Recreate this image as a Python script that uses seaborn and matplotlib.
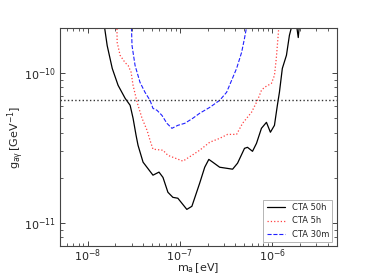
import numpy as np
import pandas as pd
import matplotlib
matplotlib.use("Agg")
import matplotlib.pyplot as plt
import seaborn as sns

# CTA 50h sensitivity
ma_50h = [1.51e-8, 1.53e-8, 1.63e-8, 1.85e-8, 2.14e-8, 2.55e-8, 2.89e-8, 3.11e-8,
          3.35e-8, 3.52e-8, 3.99e-8, 5.11e-8, 5.94e-8, 6.56e-8, 7.42e-8, 8.40e-8,
          9.51e-8, 1.19e-7, 1.35e-7, 1.64e-7, 1.86e-7, 2.06e-7, 2.27e-7, 2.70e-7,
          3.73e-7, 4.22e-7, 5.02e-7, 5.41e-7, 6.13e-7, 6.77e-7, 7.66e-7, 8.68e-7,
          9.58e-7, 1.06e-6, 1.14e-6, 1.20e-6, 1.29e-6, 1.43e-6, 1.54e-6, 1.62e-6,
          1.70e-6, 1.78e-6, 1.92e-6, 2.02e-6]
g_50h = [2.41e-10, 1.99e-10, 1.52e-10, 1.07e-10, 8.26e-11, 6.77e-11, 6.08e-11, 4.98e-11,
         3.84e-11, 3.29e-11, 2.54e-11, 2.08e-11, 2.18e-11, 2.01e-11, 1.60e-11, 1.48e-11,
         1.46e-11, 1.23e-11, 1.29e-11, 1.84e-11, 2.35e-11, 2.65e-11, 2.54e-11, 2.35e-11,
         2.28e-11, 2.50e-11, 3.14e-11, 3.19e-11, 3.00e-11, 3.39e-11, 4.27e-11, 4.68e-11,
         4.02e-11, 4.47e-11, 6.08e-11, 7.42e-11, 1.07e-10, 1.31e-10, 1.78e-10, 2.01e-10,
         2.41e-10, 2.41e-10, 1.72e-10, 2.41e-10]

# CTA 5h sensitivity
ma_5h = [2.07e-8, 2.09e-8, 2.25e-8, 2.55e-8, 2.75e-8, 2.96e-8, 3.11e-8, 3.44e-8,
         3.89e-8, 4.41e-8, 4.75e-8, 5.11e-8, 6.56e-8, 7.42e-8, 1.08e-7, 1.35e-7,
         1.64e-7, 2.11e-7, 2.70e-7, 3.29e-7, 4.12e-7, 4.78e-7, 5.98e-7, 6.94e-7,
         7.66e-7, 8.26e-7, 9.83e-7, 1.06e-6, 1.11e-6, 1.17e-6, 1.20e-6]
g_5h = [2.41e-10, 1.60e-10, 1.31e-10, 1.17e-10, 1.12e-10, 1.01e-10, 8.26e-11, 6.36e-11,
        4.98e-11, 4.14e-11, 3.55e-11, 3.10e-11, 3.05e-11, 2.82e-11, 2.58e-11, 2.82e-11,
        3.05e-11, 3.45e-11, 3.66e-11, 3.89e-11, 3.89e-11, 4.61e-11, 5.46e-11, 6.56e-11,
        7.65e-11, 8.01e-11, 8.51e-11, 9.62e-11, 1.25e-10, 1.86e-10, 2.41e-10]

# CTA 30m sensitivity
ma_30m = [2.96e-8, 3.03e-8, 3.27e-8, 3.70e-8, 4.19e-8, 4.75e-8, 5.11e-8, 5.65e-8,
          6.39e-8, 7.24e-8, 8.20e-8, 9.51e-8, 1.13e-7, 1.38e-7, 1.64e-7, 2.11e-7,
          2.70e-7, 3.21e-7, 3.64e-7, 4.12e-7, 4.67e-7, 5.02e-7, 5.28e-7, 5.41e-7]
g_30m = [2.41e-10, 1.52e-10, 1.12e-10, 8.64e-11, 7.42e-11, 6.56e-11, 5.80e-11, 5.63e-11,
         5.21e-11, 4.61e-11, 4.27e-11, 4.47e-11, 4.61e-11, 4.98e-11, 5.38e-11, 5.89e-11,
         6.56e-11, 7.42e-11, 8.92e-11, 1.07e-10, 1.37e-10, 1.70e-10, 2.01e-10, 2.41e-10]

g_ref = 6.6e-11
labels = ["CTA 50h", "CTA 5h", "CTA 30m"]

sns.set_style("ticks")
plt.rcParams['font.family'] = ['DejaVu Sans']
plt.rcParams['mathtext.fontset'] = 'dejavusans'

fig = plt.figure(figsize=(3.74, 2.8), dpi=100)
ax = fig.add_axes([0.160, 0.121, 0.740, 0.780])
ax.set_xscale('log')
ax.set_yscale('log')

sns.lineplot(x=ma_50h, y=g_50h, ax=ax, color='k', lw=0.9, sort=False,
             estimator=None, label=labels[0])
sns.lineplot(x=ma_5h, y=g_5h, ax=ax, color='#ff4040', lw=0.9, ls=':', sort=False,
             estimator=None, label=labels[1])
sns.lineplot(x=ma_30m, y=g_30m, ax=ax, color='#2020ff', lw=0.8, ls='--', sort=False,
             estimator=None, label=labels[2])
ax.axhline(g_ref, color='#333333', ls=':', lw=1.0)

ax.set_xlim(5e-9, 5e-6)
ax.set_ylim(7e-12, 2e-10)
ax.set_xlabel(r'$\mathrm{m_a\,[eV]}$', fontsize=8, labelpad=-2)
ax.set_ylabel(r'$\mathrm{g_{a\gamma}\,[GeV^{-1}]}$', fontsize=8, labelpad=-2)
ax.tick_params(which='both', direction='in', top=True, right=True, labelsize=8,
               color='#444444')
ax.tick_params(axis='x', which='both', pad=1)
ax.tick_params(axis='y', which='both', pad=3)
ax.tick_params(which='major', length=3.5, width=0.7)
ax.tick_params(which='minor', length=2, width=0.6)
for sp in ax.spines.values():
    sp.set_color('#444444')
    sp.set_linewidth(0.8)

leg = ax.legend(loc='lower right', fontsize=6, handlelength=2.2, fancybox=False,
                framealpha=1, edgecolor='#aaaaaa', borderpad=0.4, labelspacing=0.5)
leg.get_frame().set_linewidth(0.6)

fig.savefig("out.png", dpi=100)
